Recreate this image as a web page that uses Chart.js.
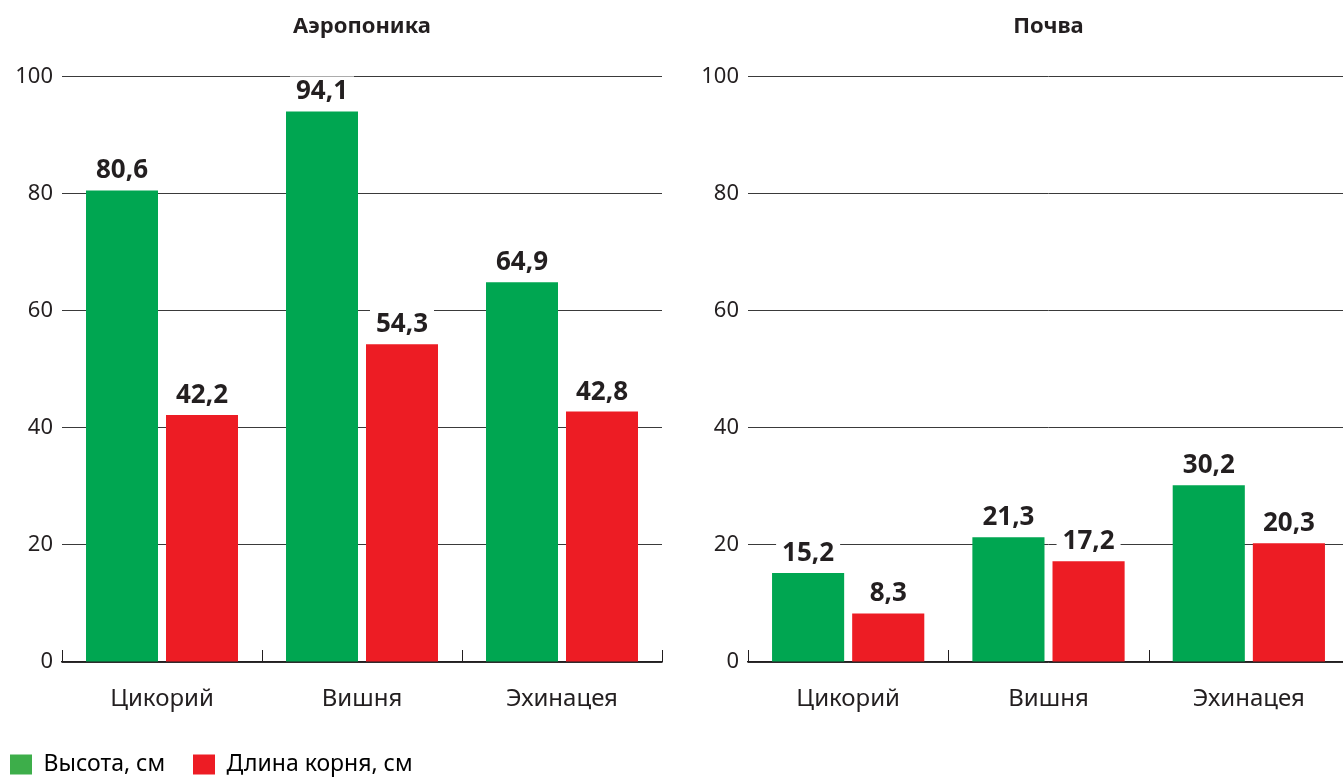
<!DOCTYPE html>
<html>
<head>
<meta charset="utf-8">
<script src="https://cdn.jsdelivr.net/npm/chart.js@4"></script>
<style>
  html, body { margin: 0; padding: 0; background: #fff; overflow: hidden; width: 1343px; height: 778px; }
  #wrap { position: relative; width: 1343px; height: 778px; }
  #left { position: absolute; left: 0; top: 0; }
  #right { position: absolute; left: 686px; top: 0; }
</style>
</head>
<body>
<div id="wrap">
  <canvas id="left" width="672" height="778"></canvas>
  <canvas id="right" width="663" height="778"></canvas>
</div>
<script>
// данные
const categories = ['Цикорий', 'Вишня', 'Эхинацея'];
const seriesNames = ['Высота, см', 'Длина корня, см'];
const aeroHeight = [80.6, 94.1, 64.9];
const aeroRoot = [42.2, 54.3, 42.8];
const soilHeight = [15.2, 21.3, 30.2];
const soilRoot = [8.3, 17.2, 20.3];
const yTicks = [0, 20, 40, 60, 80, 100];

const GREEN = '#00a651';
const RED = '#ed1c24';
const INK = '#231f20';
const FONT = '"Noto Sans", sans-serif';

// подписи над столбцами на белой подложке
const barLabels = {
  id: 'barLabels',
  afterDatasetsDraw(chart) {
    const ctx = chart.ctx;
    ctx.save();
    ctx.font = 'bold 26px ' + FONT;
    ctx.textAlign = 'center';
    ctx.textBaseline = 'alphabetic';
    chart.data.datasets.forEach((ds, di) => {
      chart.getDatasetMeta(di).data.forEach((bar, i) => {
        const txt = ds.data[i].toFixed(1).replace('.', ',');
        const w = ctx.measureText(txt).width;
        const base = bar.y - 12;
        ctx.fillStyle = '#fff';
        ctx.fillRect(bar.x - w / 2 - 6, base - 23, w + 12, 31);
        ctx.fillStyle = INK;
        ctx.fillText(txt, bar.x, base);
      });
    });
    ctx.restore();
  }
};

// короткие засечки между категориями
const boundaryTicks = {
  id: 'boundaryTicks',
  afterDraw(chart) {
    const x = chart.scales.x;
    const ctx = chart.ctx;
    const bottom = chart.chartArea.bottom;
    ctx.save();
    ctx.strokeStyle = INK;
    ctx.lineWidth = 1;
    for (let i = 0; i <= categories.length; i++) {
      const px = Math.round(x.getPixelForValue(i - 0.5)) + 0.5;
      ctx.beginPath();
      ctx.moveTo(px, bottom);
      ctx.lineTo(px, bottom - 12);
      ctx.stroke();
    }
    ctx.restore();
  }
};

function makeConfig(title, hVals, rVals, showLegend, padBottom) {
  return {
    type: 'bar',
    data: {
      labels: categories,
      datasets: [
        { label: seriesNames[0], data: hVals, backgroundColor: GREEN },
        { label: seriesNames[1], data: rVals, backgroundColor: RED }
      ]
    },
    options: {
      responsive: false,
      animation: false,
      layout: { padding: { left: 0, right: showLegend ? 10 : 0, top: 0, bottom: padBottom } },
      datasets: { bar: { barPercentage: 0.9, categoryPercentage: 0.8 } },
      plugins: {
        title: {
          display: true,
          text: title,
          fullSize: false,
          color: INK,
          font: { family: FONT, size: 22, weight: 'bold' },
          padding: { top: 14, bottom: 36.5 }
        },
        legend: {
          display: showLegend,
          position: 'bottom',
          align: 'start',
          labels: {
            color: INK,
            font: { family: FONT, size: 23 },
            boxWidth: 22,
            boxHeight: 20,
            padding: 10,
            generateLabels: () => [
              { text: seriesNames[0] + '   ', fillStyle: '#3dae4a', strokeStyle: '#3dae4a', lineWidth: 0, datasetIndex: 0 },
              { text: seriesNames[1], fillStyle: RED, strokeStyle: RED, lineWidth: 0, datasetIndex: 1 }
            ]
          }
        },
        tooltip: { enabled: false }
      },
      scales: {
        x: {
          afterFit: s => { s.height = 81; },
          grid: { display: false, drawTicks: false },
          border: { display: true, color: INK, width: 1.5 },
          ticks: { color: INK, font: { family: FONT, size: 24 }, padding: 23 }
        },
        y: {
          min: 0,
          max: 100,
          afterBuildTicks: s => { s.ticks = yTicks.map(v => ({ value: v })); },
          afterFit: s => { s.width = 62; },
          grid: { color: '#3a3a3a', lineWidth: 1, drawTicks: false },
          border: { display: false },
          ticks: { color: INK, font: { family: FONT, size: 22 }, padding: 9 }
        }
      }
    },
    plugins: [barLabels, boundaryTicks]
  };
}

const leftChart = new Chart(document.getElementById('left'),
  makeConfig('Аэропоника', aeroHeight, aeroRoot, true, -8));
new Chart(document.getElementById('right'),
  makeConfig('Почва', soilHeight, soilRoot, false, leftChart.legend.height - 8));
</script>
</body>
</html>
